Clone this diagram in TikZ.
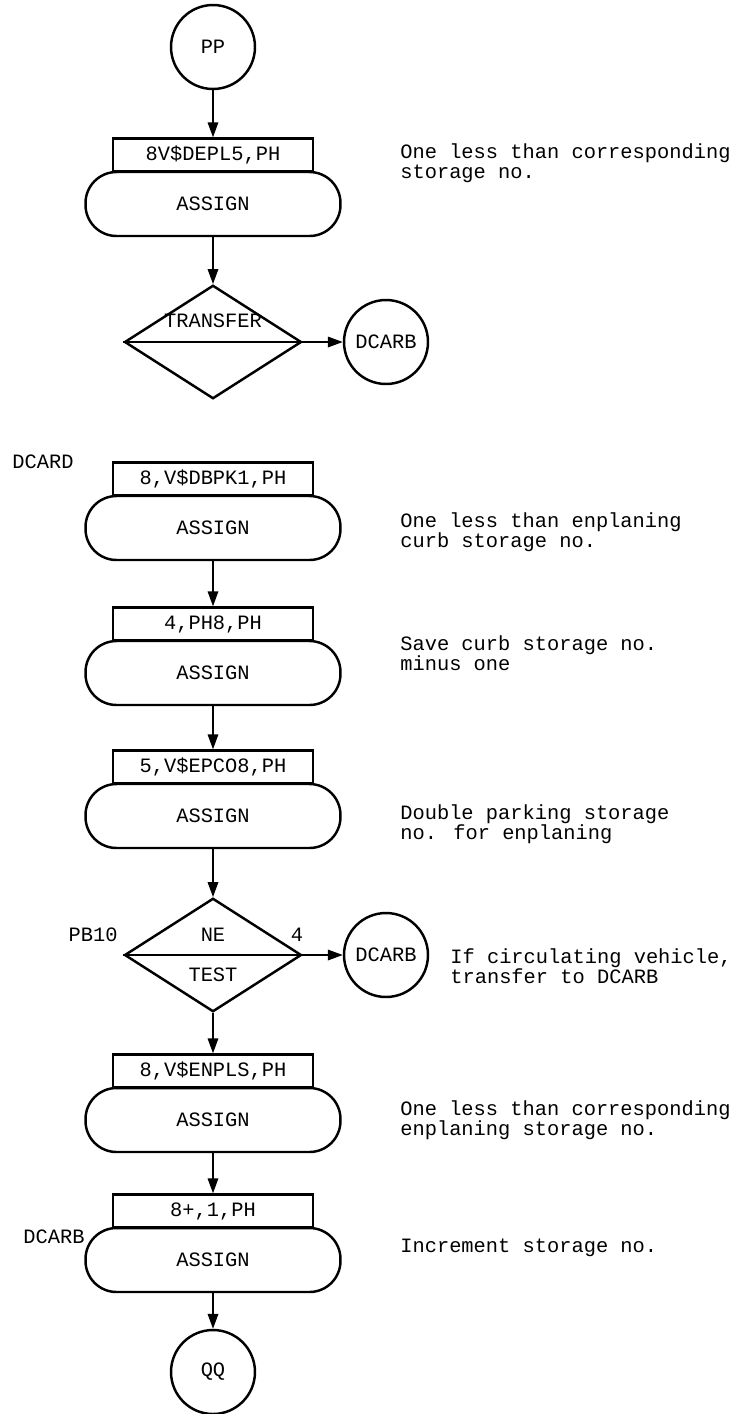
\documentclass[tikz,border=0pt]{standalone}
\usepackage{fontspec}
\newfontfamily\gpssfont{Liberation Mono}
\usetikzlibrary{shapes.geometric, arrows.meta, positioning}

\begin{document}
\begin{tikzpicture}[
  x=0.02cm, y=-0.02cm,
  every node/.style={font=\gpssfont\fontsize{11.6}{11.6}\selectfont},
  arr/.style={-{Triangle[length=8.5pt, width=6pt]}, line width=0.9pt},
  blockhead/.style={draw, line width=1.4pt, rectangle, minimum width=4cm, minimum height=0.66cm, inner sep=0pt},
  assignblk/.style={draw, line width=1.4pt, rectangle, rounded corners=0.62cm, minimum width=5.1cm, minimum height=1.28cm, inner sep=0pt},
  conn/.style={draw, line width=1.4pt, circle, minimum size=1.68cm, inner sep=0pt},
  decide/.style={draw, line width=1.4pt, diamond, minimum width=3.54cm, minimum height=2.27cm, inner sep=0pt},
  remark/.style={anchor=west, align=left, inner sep=0pt}
]
\useasboundingbox (0,0) rectangle (733,1414);

%% ===== top segment: PP -> ASSIGN -> TRANSFER =====
\node[conn] (pp) at (213, 47) {PP};
\node[assignblk] (as1) at (213, 204) {ASSIGN};
\node[blockhead] (op1) at (213, 155) {8V\$DEPL5,PH};
\node[remark] at (400, 163) {One less than corresponding\\storage no.};

\node[decide] (tr) at (213, 342) {};
\draw[line width=1.4pt] (tr.west) -- (tr.east);
\node at (213, 321) {TRANSFER};
\node[conn] (dc1) at (386, 342) {DCARB};

\draw[arr] (pp) -- (op1);
\draw[arr] (as1) -- (tr);
\draw[arr] (tr.east) -- (dc1);

%% ===== DCARD segment =====
\node[anchor=west, inner sep=0pt] at (12, 462) {DCARD};
\node[assignblk] (as2) at (213, 528) {ASSIGN};
\node[blockhead] (op2) at (213, 479) {8,V\$DBPK1,PH};
\node[remark] at (400, 532) {One less than enplaning\\curb storage no.};

\node[assignblk] (as3) at (213, 673) {ASSIGN};
\node[blockhead] (op3) at (213, 624) {4,PH8,PH};
\node[remark] at (400, 653) {Save curb storage no.\\minus one};

\node[assignblk] (as4) at (213, 816) {ASSIGN};
\node[blockhead] (op4) at (213, 767) {5,V\$EPCO8,PH};
\node[remark] at (400, 824) {Double parking storage\\no. for enplaning};

\draw[arr] (as2) -- (op3);
\draw[arr] (as3) -- (op4);

%% TEST NE block
\node[decide] (ts) at (213, 955) {};
\draw[line width=1.4pt] (ts.west) -- (ts.east);
\node at (213, 935) {NE};
\node at (213, 975) {TEST};
\node[anchor=east, inner sep=0pt] at (118, 935) {PB10};
\node at (297, 935) {4};
\node[conn] (dc2) at (386, 955) {DCARB};
\node[remark] at (450, 966) {If circulating vehicle,\\transfer to DCARB};

\draw[arr] (as4) -- (ts);
\draw[arr] (ts.east) -- (dc2);

\node[assignblk] (as5) at (213, 1120) {ASSIGN};
\node[blockhead] (op5) at (213, 1071) {8,V\$ENPLS,PH};
\node[remark] at (400, 1120) {One less than corresponding\\enplaning storage no.};

\node[assignblk] (as6) at (213, 1260) {ASSIGN};
\node[blockhead] (op6) at (213, 1211) {8+,1,PH};
\node[anchor=west, inner sep=0pt] at (23, 1237) {DCARB};
\node[remark] at (400, 1248) {Increment storage no.};

\node[conn] (qq) at (213, 1372) {QQ};

\draw[arr] (ts) -- (op5);
\draw[arr] (as5) -- (op6);
\draw[arr] (as6) -- (qq);

\end{tikzpicture}
\end{document}
